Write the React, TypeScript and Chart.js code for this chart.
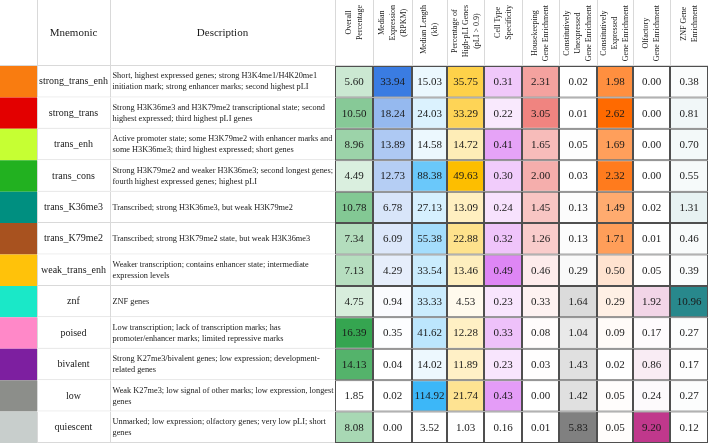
import React, { useEffect, useRef } from 'react';
import { Chart, registerables } from 'chart.js';

Chart.register(...registerables);

// ---------- data ----------
const mnemonics = [
  'strong_trans_enh', 'strong_trans', 'trans_enh', 'trans_cons', 'trans_K36me3', 'trans_K79me2',
  'weak_trans_enh', 'znf', 'poised', 'bivalent', 'low', 'quiescent',
];

const stateColors = [
  '#f97c10', '#e30000', '#c6ff33', '#22b120', '#008f80', '#a8521f',
  '#ffc20a', '#1ae8c8', '#ff88c8', '#7d1fa0', '#8c8e8a', '#c8cecc',
];

const descriptions = [
  ['Short, highest expressed genes; strong H3K4me1/H4K20me1', 'initiation mark; strong enhancer marks; second highest pLI'],
  ['Strong H3K36me3 and H3K79me2 transcriptional state; second', 'highest expressed; third highest pLI genes'],
  ['Active promoter state; some H3K79me2 with enhancer marks and', 'some H3K36me3; third highest expressed; short genes'],
  ['Strong H3K79me2 and weaker H3K36me3; second longest genes;', 'fourth highest expressed genes; highest pLI'],
  ['Transcribed; strong H3K36me3, but weak H3K79me2'],
  ['Transcribed; strong H3K79me2 state, but weak H3K36me3'],
  ['Weaker transcription; contains enhancer state; intermediate', 'expression levels'],
  ['ZNF genes'],
  ['Low transcription; lack of transcription marks; has', 'promoter/enhancer marks; limited repressive marks'],
  ['Strong K27me3/bivalent genes; low expression; development-', 'related genes'],
  ['Weak K27me3; low signal of other marks; low expression, longest', 'genes'],
  ['Unmarked; low expression; olfactory genes; very low pLI; short', 'genes'],
];

const overallPercentage = [5.60, 10.50, 8.96, 4.49, 10.78, 7.34, 7.13, 4.75, 16.39, 14.13, 1.85, 8.08];
const medianExpression = [33.94, 18.24, 13.89, 12.73, 6.78, 6.09, 4.29, 0.94, 0.35, 0.04, 0.02, 0.00];
const medianLength = [15.03, 24.03, 14.58, 88.38, 27.13, 55.38, 33.54, 33.33, 41.62, 14.02, 114.92, 3.52];
const highPLI = [35.75, 33.29, 14.72, 49.63, 13.09, 22.88, 13.46, 4.53, 12.28, 11.89, 21.74, 1.03];
const cellTypeSpecificity = [0.31, 0.22, 0.41, 0.30, 0.24, 0.32, 0.49, 0.23, 0.33, 0.23, 0.43, 0.16];
const housekeeping = [2.31, 3.05, 1.65, 2.00, 1.45, 1.26, 0.46, 0.33, 0.08, 0.03, 0.00, 0.01];
const constUnexpressed = [0.02, 0.01, 0.05, 0.03, 0.13, 0.13, 0.29, 1.64, 1.04, 1.43, 1.42, 5.83];
const constExpressed = [1.98, 2.62, 1.69, 2.32, 1.49, 1.71, 0.50, 0.29, 0.09, 0.02, 0.05, 0.05];
const olfactory = [0.00, 0.00, 0.00, 0.00, 0.02, 0.01, 0.05, 1.92, 0.17, 0.86, 0.24, 9.20];
const znfEnrichment = [0.38, 0.81, 0.70, 0.55, 1.31, 0.46, 0.39, 10.96, 0.27, 0.17, 0.27, 0.12];

const metricHeaders = [
  ['Overall', 'Percentage'],
  ['Median', 'Expression', '(RPKM)'],
  ['Median Length', '(kb)'],
  ['Percentage of', 'High-pLI Genes', '(pLI > 0.9)'],
  ['Cell Type', 'Specificity'],
  ['Housekeeping', 'Gene Enrichment'],
  ['Constitutively', 'Unexpressed', 'Gene Enrichment'],
  ['Constitutively', 'Expressed', 'Gene Enrichment'],
  ['Olfactory', 'Gene Enrichment'],
  ['ZNF Gene', 'Enrichment'],
];

const metrics = [
  overallPercentage, medianExpression, medianLength, highPLI, cellTypeSpecificity,
  housekeeping, constUnexpressed, constExpressed, olfactory, znfEnrichment,
];

// ---------- styles / layout ----------
const metricMaxColors: [number, number, number][] = [
  [53, 165, 80], [58, 124, 226], [60, 183, 248], [253, 190, 0], [222, 134, 245],
  [240, 132, 128], [128, 128, 128], [255, 106, 0], [192, 56, 140], [40, 136, 140],
];
const columnWidths = [37, 73, 225, 38, 39, 35, 37, 38, 37, 38, 36, 37, 38];
const SERIF = "'Liberation Serif', 'Times New Roman', serif";
const TEXT = '#1a1a1a';
const LIGHT = '#d9d9d9';

function cellColor(col: number, row: number): string {
  const arr = metrics[col];
  const mn = Math.min(...arr);
  const mx = Math.max(...arr);
  const t = mx === mn ? 0 : (arr[row] - mn) / (mx - mn);
  const c = metricMaxColors[col];
  const mix = (v: number) => Math.round(255 + (v - 255) * t);
  return `rgb(${mix(c[0])},${mix(c[1])},${mix(c[2])})`;
}

const tablePlugin = {
  id: 'tableText',
  afterDatasetsDraw(chart: any) {
    const ctx = chart.ctx as CanvasRenderingContext2D;
    const area = chart.chartArea;
    ctx.save();
    // header grid
    ctx.strokeStyle = LIGHT;
    ctx.lineWidth = 1;
    const metas = chart.data.datasets.map((_: any, i: number) => chart.getDatasetMeta(i));
    const colBounds = metas.map((m: any) => {
      const p = m.data[0].getProps(['x', 'base'], true);
      return [Math.min(p.x, p.base), Math.max(p.x, p.base)];
    });
    ctx.beginPath();
    colBounds.forEach((b: number[], i: number) => {
      if (i === 0) return;
      const xx = Math.round(b[0]) + 0.5;
      ctx.moveTo(xx, 0);
      ctx.lineTo(xx, area.top);
    });
    ctx.moveTo(0, area.top - 0.5);
    ctx.lineTo(area.right, area.top - 0.5);
    ctx.stroke();

    // header texts
    ctx.fillStyle = TEXT;
    ctx.textAlign = 'center';
    ctx.textBaseline = 'middle';
    ctx.font = `11px ${SERIF}`;
    ctx.fillText('Mnemonic', (colBounds[1][0] + colBounds[1][1]) / 2, area.top / 2);
    ctx.fillText('Description', (colBounds[2][0] + colBounds[2][1]) / 2, area.top / 2);

    ctx.font = `8px ${SERIF}`;
    metricHeaders.forEach((lines, k) => {
      const b = colBounds[k + 3];
      const cx = (b[0] + b[1]) / 2;
      const maxW = Math.max(...lines.map((l) => ctx.measureText(l).width));
      const cy = 5 + maxW / 2;
      lines.forEach((line, j) => {
        const lx = cx + (j - (lines.length - 1) / 2) * 11;
        ctx.save();
        ctx.translate(lx, cy);
        ctx.rotate(-Math.PI / 2);
        ctx.fillText(line, 0, 0);
        ctx.restore();
      });
    });

    // cell texts
    metas.forEach((meta: any, i: number) => {
      meta.data.forEach((el: any, r: number) => {
        const p = el.getProps(['x', 'y', 'base'], true);
        const left = Math.min(p.x, p.base);
        const right = Math.max(p.x, p.base);
        const cx = (left + right) / 2;
        const cy = p.y;
        if (i === 1) {
          ctx.font = `10px ${SERIF}`;
          ctx.textAlign = 'center';
          ctx.fillText(mnemonics[r], cx, cy);
        } else if (i === 2) {
          ctx.font = `8.3px ${SERIF}`;
          ctx.textAlign = 'left';
          const lines = descriptions[r];
          lines.forEach((line, j) => {
            ctx.fillText(line, left + 2.5, cy + (j - (lines.length - 1) / 2) * 11);
          });
        } else if (i >= 3) {
          ctx.font = `11px ${SERIF}`;
          ctx.textAlign = 'center';
          ctx.fillText(metrics[i - 3][r].toFixed(2), cx, cy + 0.5);
        }
      });
    });
    ctx.restore();
  },
};

export default function App() {
  const canvasRef = useRef<HTMLCanvasElement | null>(null);

  useEffect(() => {
    if (!canvasRef.current) return;
    const total = columnWidths.reduce((a, b) => a + b, 0);
    const datasets = columnWidths.map((w, i) => ({
      label: `col${i}`,
      data: mnemonics.map(() => w),
      backgroundColor: (c: any) => {
        if (i === 0) return stateColors[c.dataIndex];
        if (i < 3) return '#ffffff';
        return cellColor(i - 3, c.dataIndex);
      },
      borderColor: i < 3 ? LIGHT : '#4f4f4f',
      borderWidth: i === 0 ? 0 : i < 3 ? { left: 1, right: 0, top: 0, bottom: 1 } : 1,
      borderSkipped: false as any,
      inflateAmount: 0,
      barPercentage: 1,
      categoryPercentage: 1,
    }));

    const chart = new Chart(canvasRef.current, {
      type: 'bar',
      data: { labels: mnemonics, datasets },
      options: {
        indexAxis: 'y',
        animation: false,
        responsive: true,
        maintainAspectRatio: false,
        layout: { padding: { top: 66, bottom: 2, left: 0, right: 0 } },
        scales: {
          x: { stacked: true, display: false, min: 0, max: total },
          y: { stacked: true, display: false },
        },
        plugins: { legend: { display: false }, tooltip: { enabled: false } },
      },
      plugins: [tablePlugin],
    } as any);
    return () => chart.destroy();
  }, []);

  return (
    <div style={{ position: 'fixed', left: 0, top: 0, width: 708, height: 445, background: '#ffffff' }}>
      <canvas ref={canvasRef} />
    </div>
  );
}
